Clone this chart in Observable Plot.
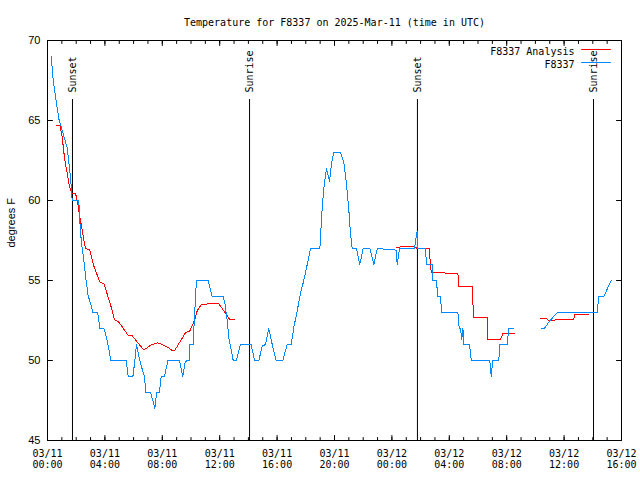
<!DOCTYPE html>
<html><head><meta charset="utf-8">
<script src="https://cdn.jsdelivr.net/npm/d3@7"></script>
<script src="https://cdn.jsdelivr.net/npm/@observablehq/plot@0.6"></script>
<style>body{margin:0;background:#fff}</style>
</head><body><div id="chart"></div>
<script>
const chartTitle = "Temperature for F8337 on 2025-Mar-11 (time in UTC)";
const yLabel = "degrees F";
const startTime = "2025-03-11T00:00:00Z";

// Observed F8337 (hours since start, degrees F); null = gap
const obsHours = [0.26,0.40,0.56,0.79,1.02,1.37,1.60,1.72,2.18,2.25,2.35,2.53,2.69,2.83,3.00,3.16,3.50,3.65,3.93,4.09,4.27,4.41,5.48,5.62,5.95,6.09,6.20,6.48,6.76,6.85,7.18,7.37,7.48,7.60,7.80,7.92,8.15,8.39,9.20,9.43,9.57,9.69,9.87,9.92,10.15,10.24,10.38,11.20,11.48,12.24,12.36,12.52,12.66,12.75,12.94,13.17,13.45,14.19,14.43,14.73,14.96,15.19,15.42,15.66,15.93,16.40,16.70,16.98,17.17,17.40,17.63,17.86,18.10,18.33,18.98,19.07,19.14,19.26,19.44,19.65,19.79,19.95,20.42,20.65,20.84,21.00,21.10,21.23,21.53,21.76,22.00,22.46,22.74,22.98,24.30,24.37,24.53,25.57,25.69,25.76,25.80,26.34,26.41,26.80,26.85,27.10,27.20,27.39,27.46,28.60,28.69,28.78,28.87,28.95,29.02,29.41,29.53,30.82,30.92,31.03,31.45,31.52,32.03,32.15,32.50,33.50,34.40,34.63,34.93,35.52,38.30,38.42,38.77,39.28];
const obsTemps = [69.0,67.5,66.5,65.1,64.4,63.3,61.5,60.0,60.0,58.75,57.5,56.25,55.0,54.06,53.56,53.0,53.0,52.0,52.0,51.5,50.75,50.0,50.0,49.0,49.0,50.0,51.0,49.8,49.0,48.0,48.0,47.4,47.0,48.0,48.0,49.0,49.0,50.0,50.0,49.0,49.8,50.0,50.0,51.0,51.0,52.7,55.0,55.0,54.0,54.0,53.6,52.5,51.25,50.9,50.0,50.0,51.0,51.0,50.0,50.0,50.9,51.0,52.0,51.0,50.0,50.0,51.0,51.0,52.1,53.1,54.2,55.0,56.0,57.0,57.0,58.4,59.5,60.8,62.0,61.2,62.3,63.0,63.0,62.4,61.0,59.4,58.1,57.0,57.0,56.0,57.0,57.0,56.0,57.0,56.9,56.0,57.0,57.0,57.7,58.1,57.0,57.0,56.0,56.0,55.0,55.0,54.0,54.0,53.0,53.0,52.0,52.0,51.3,52.0,51.0,51.0,50.0,50.0,49.0,50.0,50.0,51.0,51.0,52.0,52.0,null,52.0,52.0,52.4,53.0,53.0,54.0,54.0,55.0];

// F8337 Analysis
const anaHours = [0.63,0.86,1.02,1.18,1.37,1.55,1.72,1.95,2.07,2.30,2.48,2.65,2.95,3.23,3.65,3.93,4.39,4.67,4.97,5.60,5.90,6.71,7.18,7.64,7.87,8.34,8.69,8.87,9.15,9.62,9.92,10.24,10.43,10.73,11.31,11.94,12.17,12.52,12.71,13.03,18.50,24.30,24.72,25.53,25.78,26.62,26.66,26.74,27.69,27.72,28.60,28.67,29.60,29.67,29.70,30.64,30.68,31.57,31.73,32.54,33.50,34.36,34.82,34.90,35.68,36.68,36.72,37.68];
const anaTemps = [64.7,64.7,64.0,62.7,61.7,60.8,60.46,60.46,60.0,58.75,57.8,57.0,56.9,55.9,54.9,54.8,53.5,52.55,52.4,51.6,51.55,50.65,50.95,51.1,51.05,50.85,50.63,50.63,51.05,51.75,51.85,52.5,53.1,53.5,53.55,53.55,53.25,52.8,52.55,52.55,null,57.05,57.12,57.12,57.0,57.0,56.25,55.5,55.5,55.42,55.42,54.6,54.6,53.1,52.67,52.67,51.31,51.31,51.67,51.67,null,52.6,52.6,52.5,52.55,52.55,52.85,52.85];

const sunHours = [1.74, 14.08, 25.78, 38.05];
const sunLabels = ["Sunset", "Sunrise", "Sunset", "Sunrise"];

const yTicks = [45, 50, 55, 60, 65, 70];
const xTickHours = [0, 4, 8, 12, 16, 20, 24, 28, 32, 36, 40];
const xTickLabels = ["03/11\n00:00","03/11\n04:00","03/11\n08:00","03/11\n12:00","03/11\n16:00","03/11\n20:00","03/12\n00:00","03/12\n04:00","03/12\n08:00","03/12\n12:00","03/12\n16:00"];
const xMinorHours = d3.range(0, 41);

const seriesNames = ["F8337 Analysis", "F8337"];
const seriesColors = ["#ff0000", "#0088ff"];

const t0 = Date.parse(startTime);
const toDate = h => new Date(t0 + h * 3600e3);
const obs = obsHours.map((h, i) => ({time: toDate(h), temp: obsTemps[i]}));
const ana = anaHours.map((h, i) => ({time: toDate(h), temp: anaTemps[i]}));
const sun = sunHours.map((h, i) => ({time: toDate(h), label: sunLabels[i]}));

const tickShape = {draw(c, l) { c.moveTo(0, 0); c.lineTo(0, -l); }};
const mono = "DejaVu Sans Mono";
const sans = "Liberation Sans";
const tickOpts = {shape: tickShape, anchor: "start", stroke: "black", strokeWidth: 1};

const chart = Plot.plot({
  width: 640, height: 480,
  marginLeft: 47, marginRight: 19, marginTop: 40, marginBottom: 40,
  x: {type: "utc", domain: [toDate(0), toDate(40)], axis: null},
  y: {domain: [45, 70], axis: null},
  style: {fontFamily: mono, fontSize: "10px", background: "white", color: "black"},
  marks: [
    Plot.ruleX(sun, {x: "time", insetTop: 59, stroke: "black", strokeWidth: 1}),
    Plot.text(sun, {x: "time", text: "label", frameAnchor: "top", dy: 52, rotate: -90, textAnchor: "start", lineAnchor: "middle", fill: "black"}),
    Plot.line(ana, {x: "time", y: "temp", stroke: seriesColors[0], strokeWidth: 1, shapeRendering: "crispEdges"}),
    Plot.line(obs, {x: "time", y: "temp", stroke: seriesColors[1], strokeWidth: 1, shapeRendering: "crispEdges"}),
    Plot.frame({stroke: "black", strokeWidth: 1}),
    // x ticks (bottom and top)
    Plot.vector(xMinorHours, {x: h => toDate(h), frameAnchor: "bottom", length: 3, rotate: 0, ...tickOpts}),
    Plot.vector(xMinorHours, {x: h => toDate(h), frameAnchor: "top", length: 3, rotate: 180, ...tickOpts}),
    Plot.vector(xTickHours, {x: h => toDate(h), frameAnchor: "bottom", length: 5, rotate: 0, ...tickOpts}),
    Plot.vector(xTickHours, {x: h => toDate(h), frameAnchor: "top", length: 5, rotate: 180, ...tickOpts}),
    // y ticks (left and right)
    Plot.vector(yTicks, {y: d => d, frameAnchor: "left", length: 5, rotate: 90, ...tickOpts}),
    Plot.vector(yTicks, {y: d => d, frameAnchor: "right", length: 5, rotate: -90, ...tickOpts}),
    // tick labels
    Plot.text(xTickHours, {x: h => toDate(h), text: (d, i) => xTickLabels[i], frameAnchor: "bottom", lineAnchor: "top", dy: 9, lineHeight: 1.1, fill: "black"}),
    Plot.text(yTicks, {y: d => d, text: d => String(d), frameAnchor: "left", dx: -7, textAnchor: "end", fontFamily: sans, fontSize: 11, fill: "black"}),
    // axis label & title
    Plot.text([yLabel], {frameAnchor: "left", dx: -36, dy: 7, rotate: -90, fontFamily: sans, fontSize: 11, fill: "black"}),
    Plot.text([chartTitle], {frameAnchor: "top", dy: -22, fill: "black"}),
    // legend
    Plot.text([seriesNames[0]], {frameAnchor: "top-right", dx: -47, dy: 7, textAnchor: "end", fill: "black"}),
    Plot.text([seriesNames[1]], {frameAnchor: "top-right", dx: -47, dy: 20, textAnchor: "end", fill: "black"}),
    Plot.vector([0], {frameAnchor: "top-right", dx: -11, dy: 9, length: 29, rotate: -90, shape: tickShape, anchor: "start", stroke: seriesColors[0], strokeWidth: 1}),
    Plot.vector([0], {frameAnchor: "top-right", dx: -11, dy: 22, length: 29, rotate: -90, shape: tickShape, anchor: "start", stroke: seriesColors[1], strokeWidth: 1})
  ]
});
document.getElementById("chart").appendChild(chart);
</script>
</body></html>
